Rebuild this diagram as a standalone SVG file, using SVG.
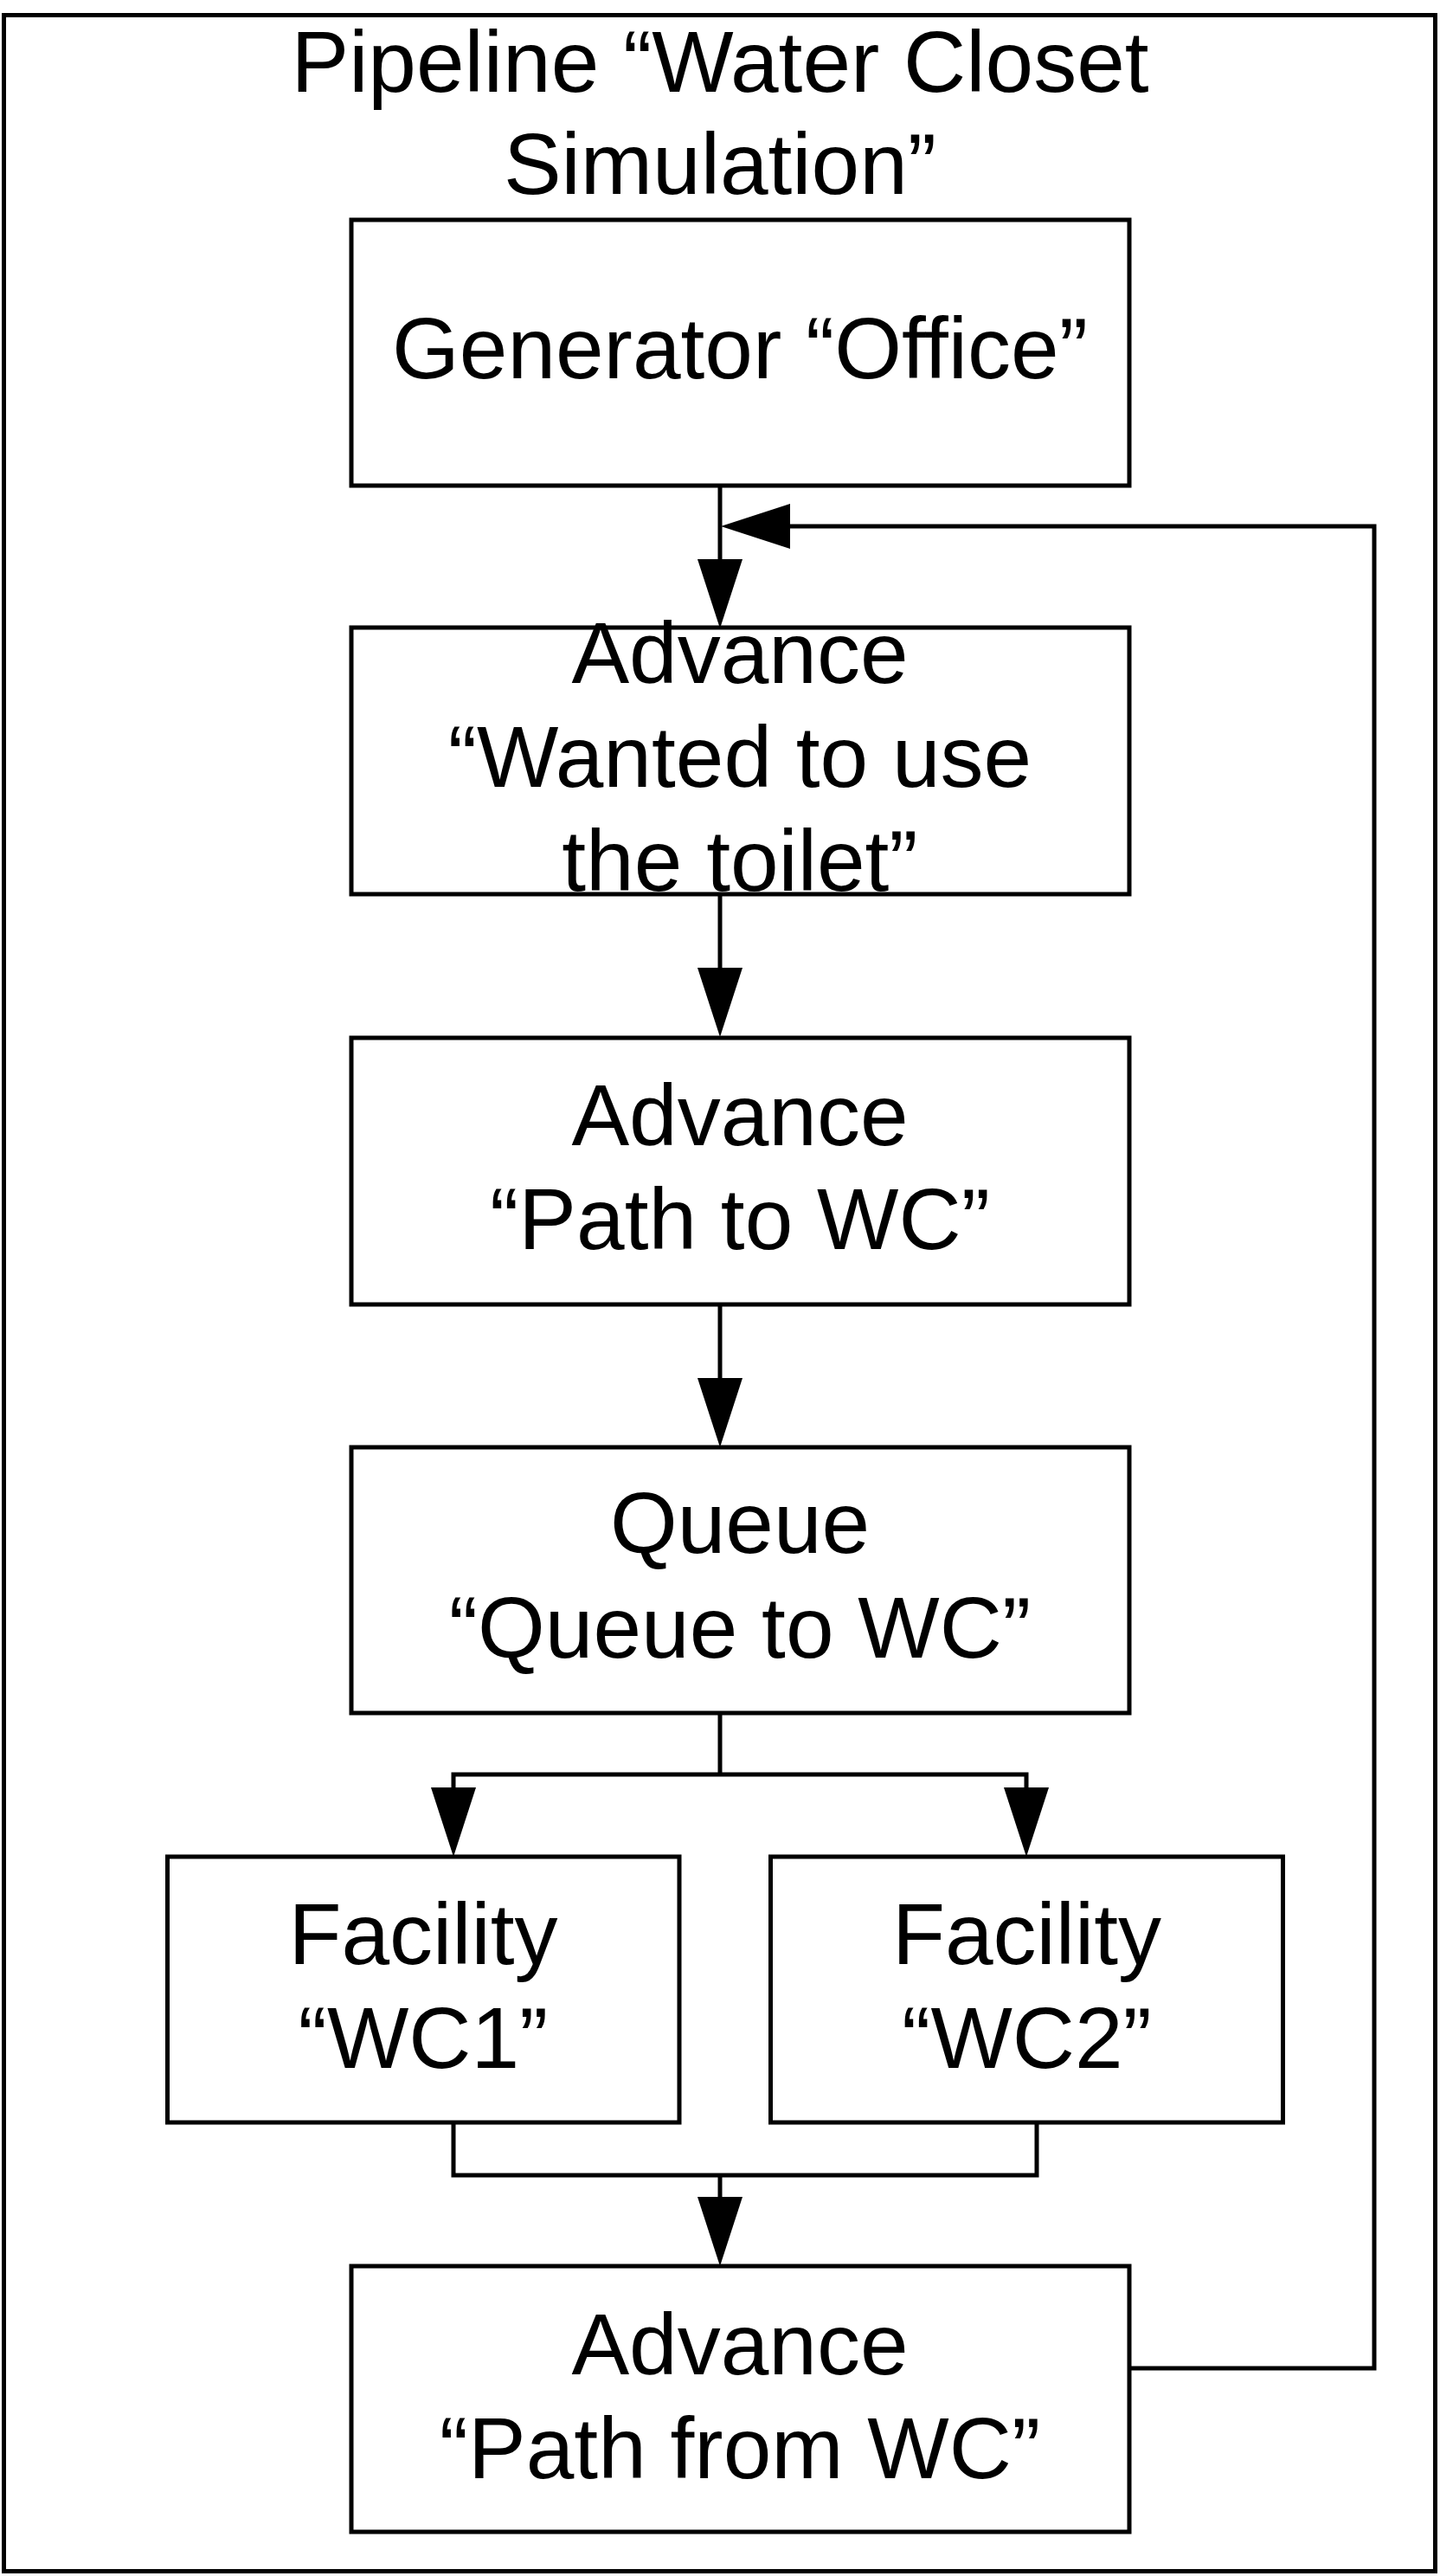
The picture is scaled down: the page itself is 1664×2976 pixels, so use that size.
<svg xmlns="http://www.w3.org/2000/svg" width="1664" height="2976" viewBox="0 0 1664 2976">
<style>
.box{fill:#fff;stroke:#000;stroke-width:5;stroke-linejoin:miter}
.frame{fill:#fff;stroke:#000;stroke-width:5}
.lbl{font-family:"Liberation Sans",Arial,sans-serif;font-size:100px;fill:#000;text-anchor:middle}
.con{fill:none;stroke:#000;stroke-width:5;stroke-linejoin:miter}
</style>
<defs>
<marker id="arr" markerUnits="userSpaceOnUse" viewBox="0 0 80 52" refX="0" refY="26" markerWidth="80" markerHeight="52" orient="auto">
<path d="M0,0 L80,26 L0,52 Z" fill="#000"/>
</marker>
</defs>
<g id="pipeline">
<rect class="frame" x="4.5" y="17.5" width="1654" height="2953"/>
<text class="lbl" x="832" y="106">Pipeline “Water Closet</text>
<text class="lbl" x="832" y="224">Simulation”</text>
</g>
<g id="connectors">
<path class="con" d="M832,561 L832,646" marker-end="url(#arr)"/>
<path class="con" d="M1305,2736 L1588,2736 L1588,608 L913,608" marker-end="url(#arr)"/>
<path class="con" d="M832,1033 L832,1118" marker-end="url(#arr)"/>
<path class="con" d="M832,1507 L832,1592" marker-end="url(#arr)"/>
<path class="con" d="M832,1979 L832,2050"/>
<path class="con" d="M832,2050 L524,2050 L524,2065" marker-end="url(#arr)"/>
<path class="con" d="M832,2050 L1186,2050 L1186,2065" marker-end="url(#arr)"/>
<path class="con" d="M524,2452 L524,2513 L1198,2513 L1198,2452"/>
<path class="con" d="M832,2513 L832,2538" marker-end="url(#arr)"/>
</g>
<g id="generator-office">
<rect class="box" x="406" y="254" width="899" height="307"/>
<text class="lbl" x="855" y="437">Generator “Office”</text>
</g>
<g id="advance-wanted">
<rect class="box" x="406" y="725" width="899" height="308"/>
<text class="lbl" x="855" y="789">Advance</text>
<text class="lbl" x="855" y="909">“Wanted to use</text>
<text class="lbl" x="855" y="1029">the toilet”</text>
</g>
<g id="advance-path-to-wc">
<rect class="box" x="406" y="1199" width="899" height="308"/>
<text class="lbl" x="855" y="1323">Advance</text>
<text class="lbl" x="855" y="1443">“Path to WC”</text>
</g>
<g id="queue-to-wc">
<rect class="box" x="406" y="1672" width="899" height="307"/>
<text class="lbl" x="855" y="1794">Queue</text>
<text class="lbl" x="855" y="1915">“Queue to WC”</text>
</g>
<g id="facility-wc1">
<rect class="box" x="193.5" y="2145" width="591.5" height="307"/>
<text class="lbl" x="489" y="2269">Facility</text>
<text class="lbl" x="489" y="2389">“WC1”</text>
</g>
<g id="facility-wc2">
<rect class="box" x="890.5" y="2145" width="592" height="307"/>
<text class="lbl" x="1186.5" y="2269">Facility</text>
<text class="lbl" x="1186.5" y="2389">“WC2”</text>
</g>
<g id="advance-path-from-wc">
<rect class="box" x="406" y="2618" width="899" height="307"/>
<text class="lbl" x="855" y="2743">Advance</text>
<text class="lbl" x="855" y="2863">“Path from WC”</text>
</g>
</svg>
